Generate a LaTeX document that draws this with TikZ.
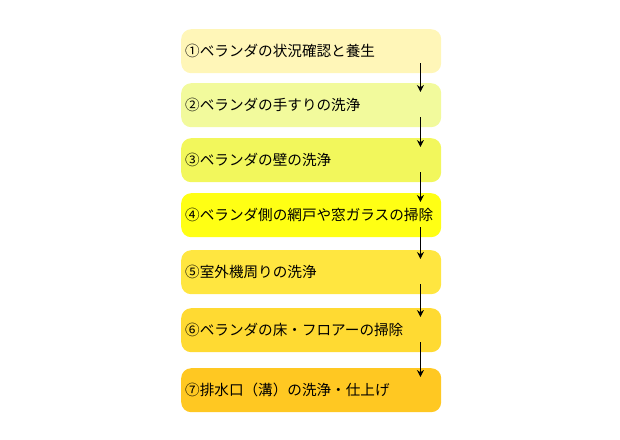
\documentclass[tikz,border=0pt]{standalone}
\usepackage{fontspec}
\setmainfont{Noto Sans CJK JP}
\usetikzlibrary{arrows.meta}
\definecolor{stepA}{HTML}{FFF6B8}
\definecolor{stepB}{HTML}{F2FA9C}
\definecolor{stepC}{HTML}{F2F75C}
\definecolor{stepD}{HTML}{FFFF14}
\definecolor{stepE}{HTML}{FFE640}
\definecolor{stepF}{HTML}{FFDA32}
\definecolor{stepG}{HTML}{FFC822}
\tikzset{
  stepbox/.style={rounded corners=10pt, minimum width=260pt, minimum height=44pt,
    inner xsep=4pt, anchor=north west, align=left, text width=252pt,
    font=\fontsize{14.6pt}{16pt}\selectfont},
  flow/.style={-{Stealth[length=7pt,width=7pt]}, line width=1.3pt}
}
\begin{document}
\begin{tikzpicture}[x=1pt,y=-1pt]
\useasboundingbox (0,0) rectangle (620,439);
\node[stepbox, fill=stepA] (s1) at (181,29) {①ベランダの状況確認と養生};
\node[stepbox, fill=stepB] (s2) at (181,83) {②ベランダの手すりの洗浄};
\node[stepbox, fill=stepC] (s3) at (181,138) {③ベランダの壁の洗浄};
\node[stepbox, fill=stepD] (s4) at (181,193) {④ベランダ側の網戸や窓ガラスの掃除};
\node[stepbox, fill=stepE] (s5) at (181,250) {⑤室外機周りの洗浄};
\node[stepbox, fill=stepF] (s6) at (181,308) {⑥ベランダの床・フロアーの掃除};
\node[stepbox, fill=stepG] (s7) at (181,368) {⑦排水口（溝）の洗浄・仕上げ};
\foreach \a/\b in {s1/s2,s2/s3,s3/s4,s4/s5,s5/s6,s6/s7}
  \draw[flow] ([xshift=-21pt,yshift=10pt]\a.south east) -- ([xshift=-21pt,yshift=-9pt]\b.north east);
\end{tikzpicture}
\end{document}
